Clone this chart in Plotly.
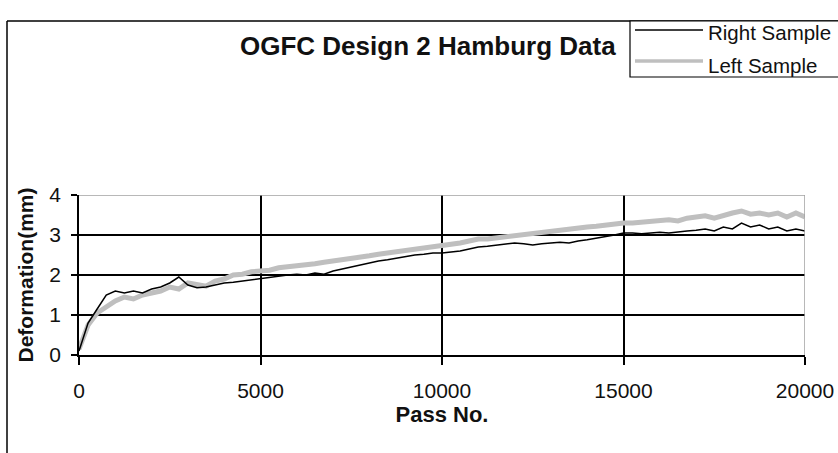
import plotly.graph_objects as go

passes = list(range(0, 20001, 250))

right_sample = [0.10, 0.80, 1.15, 1.50, 1.60, 1.55, 1.60, 1.55, 1.65, 1.70,
                1.80, 1.95, 1.75, 1.68, 1.70, 1.75, 1.80, 1.82, 1.85, 1.88,
                1.92, 1.95, 1.98, 2.00, 2.02, 2.00, 2.05, 2.02, 2.10, 2.15,
                2.20, 2.25, 2.30, 2.35, 2.38, 2.42, 2.45, 2.50, 2.52, 2.55,
                2.55, 2.58, 2.60, 2.65, 2.70, 2.72, 2.75, 2.78, 2.80, 2.78,
                2.75, 2.78, 2.80, 2.82, 2.80, 2.85, 2.88, 2.92, 2.95, 3.00,
                3.05, 3.05, 3.03, 3.05, 3.07, 3.05, 3.08, 3.10, 3.12, 3.15,
                3.10, 3.20, 3.15, 3.30, 3.20, 3.25, 3.15, 3.20, 3.10, 3.15,
                3.10]

left_sample = [0.15, 0.75, 1.05, 1.20, 1.35, 1.45, 1.40, 1.50, 1.55, 1.60,
               1.70, 1.65, 1.80, 1.75, 1.72, 1.85, 1.90, 2.00, 2.02, 2.08,
               2.10, 2.12, 2.18, 2.20, 2.22, 2.25, 2.28, 2.32, 2.35, 2.36,
               2.42, 2.45, 2.48, 2.52, 2.55, 2.58, 2.60, 2.63, 2.66, 2.68,
               2.72, 2.74, 2.80, 2.85, 2.90, 2.90, 2.93, 2.96, 2.98, 3.00,
               3.03, 3.06, 3.10, 3.12, 3.15, 3.18, 3.20, 3.22, 3.25, 3.27,
               3.30, 3.30, 3.32, 3.35, 3.36, 3.38, 3.35, 3.42, 3.45, 3.48,
               3.42, 3.50, 3.55, 3.60, 3.52, 3.55, 3.50, 3.55, 3.45, 3.55,
               3.45]

x_ticks = [0, 5000, 10000, 15000, 20000]
y_ticks = [0, 1, 2, 3, 4]

FONT = "Liberation Sans, Arial, sans-serif"
W, H = 838, 453
L, R, T, B = 79, 805, 195, 355


def px(xp):
    return (xp - L) / (R - L)


def py(yp):
    return (B - yp) / (B - T)


fig = go.Figure()
fig.add_trace(go.Scatter(x=passes, y=left_sample, mode="lines", name="Left Sample",
                         line=dict(color="#bfbfbf", width=5), showlegend=False))
fig.add_trace(go.Scatter(x=passes, y=right_sample, mode="lines", name="Right Sample",
                         line=dict(color="#000000", width=1.5), showlegend=False))

shapes = [
    dict(type="line", xref="x", yref="y", x0=0, x1=20000, y0=4, y1=4,
         line=dict(color="#a0a0a0", width=1.5)),
    dict(type="line", xref="x", yref="y", x0=20000, x1=20000, y0=0, y1=4,
         line=dict(color="#a0a0a0", width=1.5)),
    dict(type="line", xref="paper", yref="paper", x0=px(7), x1=px(7), y0=py(21), y1=py(470),
         line=dict(color="#000000", width=1.5)),
    dict(type="line", xref="paper", yref="paper", x0=px(7), x1=px(850), y0=py(21), y1=py(21),
         line=dict(color="#000000", width=1.5)),
    dict(type="rect", xref="paper", yref="paper", x0=px(630), x1=px(860), y0=py(77), y1=py(21),
         line=dict(color="#000000", width=1.2), fillcolor="white"),
    dict(type="line", xref="paper", yref="paper", x0=px(635), x1=px(703), y0=py(30), y1=py(30),
         line=dict(color="#000000", width=1.5)),
    dict(type="line", xref="paper", yref="paper", x0=px(635), x1=px(703), y0=py(61), y1=py(61),
         line=dict(color="#bfbfbf", width=3.5)),
]

annotations = [
    dict(text="<b>OGFC Design 2 Hamburg Data</b>", xref="paper", yref="paper",
         x=px(428), y=py(46), xanchor="center", yanchor="middle", showarrow=False,
         font=dict(family=FONT, size=26, color="#111111")),
    dict(text="Right Sample", xref="paper", yref="paper", x=px(706), y=py(32),
         xanchor="left", yanchor="middle", showarrow=False,
         font=dict(family=FONT, size=20.5, color="#111111")),
    dict(text="Left Sample", xref="paper", yref="paper", x=px(706), y=py(65),
         xanchor="left", yanchor="middle", showarrow=False,
         font=dict(family=FONT, size=20.5, color="#111111")),
]

fig.update_layout(
    width=W, height=H,
    margin=dict(l=L, r=W - R, t=T, b=H - B, pad=0),
    paper_bgcolor="white", plot_bgcolor="white",
    font=dict(family=FONT, size=21, color="#111111"),
    shapes=shapes, annotations=annotations,
    xaxis=dict(range=[0, 20000], tickvals=x_ticks, ticktext=[str(v) for v in x_ticks],
               showgrid=True, gridcolor="#000000", gridwidth=1.5,
               showline=True, linecolor="#000000", linewidth=1.5,
               ticks="outside", ticklen=8, tickcolor="#000000", tickwidth=1.5,
               ticklabelstandoff=8, automargin=False,
               zeroline=False, tickfont=dict(size=21),
               title=dict(text="<b>Pass No.</b>", font=dict(size=22), standoff=4)),
    yaxis=dict(range=[0, 4], tickvals=y_ticks,
               showgrid=True, gridcolor="#000000", gridwidth=1.5,
               showline=True, linecolor="#000000", linewidth=1.5,
               ticks="outside", ticklen=6, tickcolor="#000000", tickwidth=1.5,
               ticklabelstandoff=6, automargin=False,
               zeroline=False, tickfont=dict(size=21),
               title=dict(text="<b>Deformation(mm)</b>", font=dict(size=21), standoff=10)),
)

fig.write_html("out.html", config={"displayModeBar": False},
               post_script="document.body.style.margin='0';")
